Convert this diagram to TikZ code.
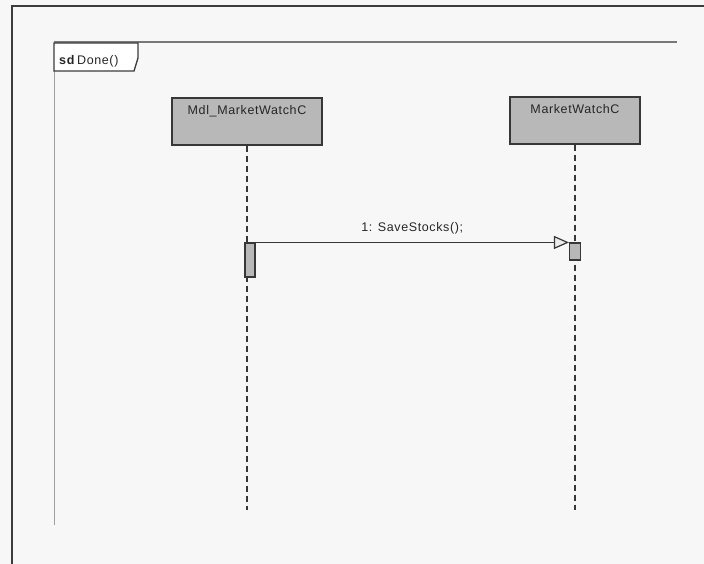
\documentclass[tikz,border=0pt]{standalone}
\usepackage{fontspec}
\setmainfont{Liberation Sans}[LetterSpace=5]
\usetikzlibrary{arrows.meta}
\definecolor{bgc}{RGB}{247,247,247}
\definecolor{framec}{RGB}{60,60,60}
\definecolor{innerc}{RGB}{120,120,120}
\definecolor{boxfill}{RGB}{184,184,184}
\definecolor{linec}{RGB}{55,55,55}
\tikzset{
  lifebox/.style={draw=linec, line width=1.3pt, fill=boxfill, rectangle, inner sep=0pt},
  actbar/.style={draw=linec, line width=1.1pt, fill=boxfill, rectangle, inner sep=0pt},
  lifeline/.style={draw=linec, line width=1.6pt, dash pattern=on 6pt off 4pt},
  msg/.style={draw=linec, line width=1.2pt, -{Triangle[open, length=15pt, width=13pt, fill=white!85!gray]}},
  txt/.style={font=\fontsize{12.5}{14}\selectfont, text=black!85, inner sep=0pt},
}
\begin{document}
\begin{tikzpicture}[x=1pt, y=-1pt]
\fill[bgc] (0,0) rectangle (704,564);
\useasboundingbox (0,0) rectangle (704,564);
% outer frame
\draw[framec, line width=2pt] (12,564) -- (12,6) -- (704,6);
% inner frame
\draw[innerc, line width=2pt] (54,42.5) -- (677,42.5);
\draw[innerc!70, line width=0.8pt] (54,42) -- (54,525);
% tab
\draw[framec, line width=1.3pt, fill=white] (54,43) -- (138,43) -- (138,58) -- (134,71) -- (54,71) -- cycle;
\node[txt, anchor=base west] (tab) at (59,65) {\textbf{sd}\,Done()};
% lifelines
\node[lifebox, minimum width=150pt, minimum height=47pt,
  label={[txt, anchor=north, yshift=-8pt]north:Mdl\_MarketWatchC}] (b1) at (247,121.5) {};
\node[lifebox, minimum width=130pt, minimum height=47pt,
  label={[txt, anchor=north, yshift=-8pt]north:MarketWatchC}] (b2) at (575,120.5) {};
\coordinate (e1) at (247,510);
\coordinate (e2) at (575,510);
\draw[lifeline] (b1.south) -- (e1);
\draw[lifeline] (b2.south) -- (e2);
% activation bars
\node[actbar, minimum width=10pt, minimum height=34pt] (a1) at (250,260) {};
\node[actbar, minimum width=11pt, minimum height=17pt] (a2) at (575,251.5) {};
% message
\draw[msg] (a1.north east) -- node[txt, above=8pt] (m1) {1: SaveStocks();} (a2.north west);
\end{tikzpicture}
\end{document}
